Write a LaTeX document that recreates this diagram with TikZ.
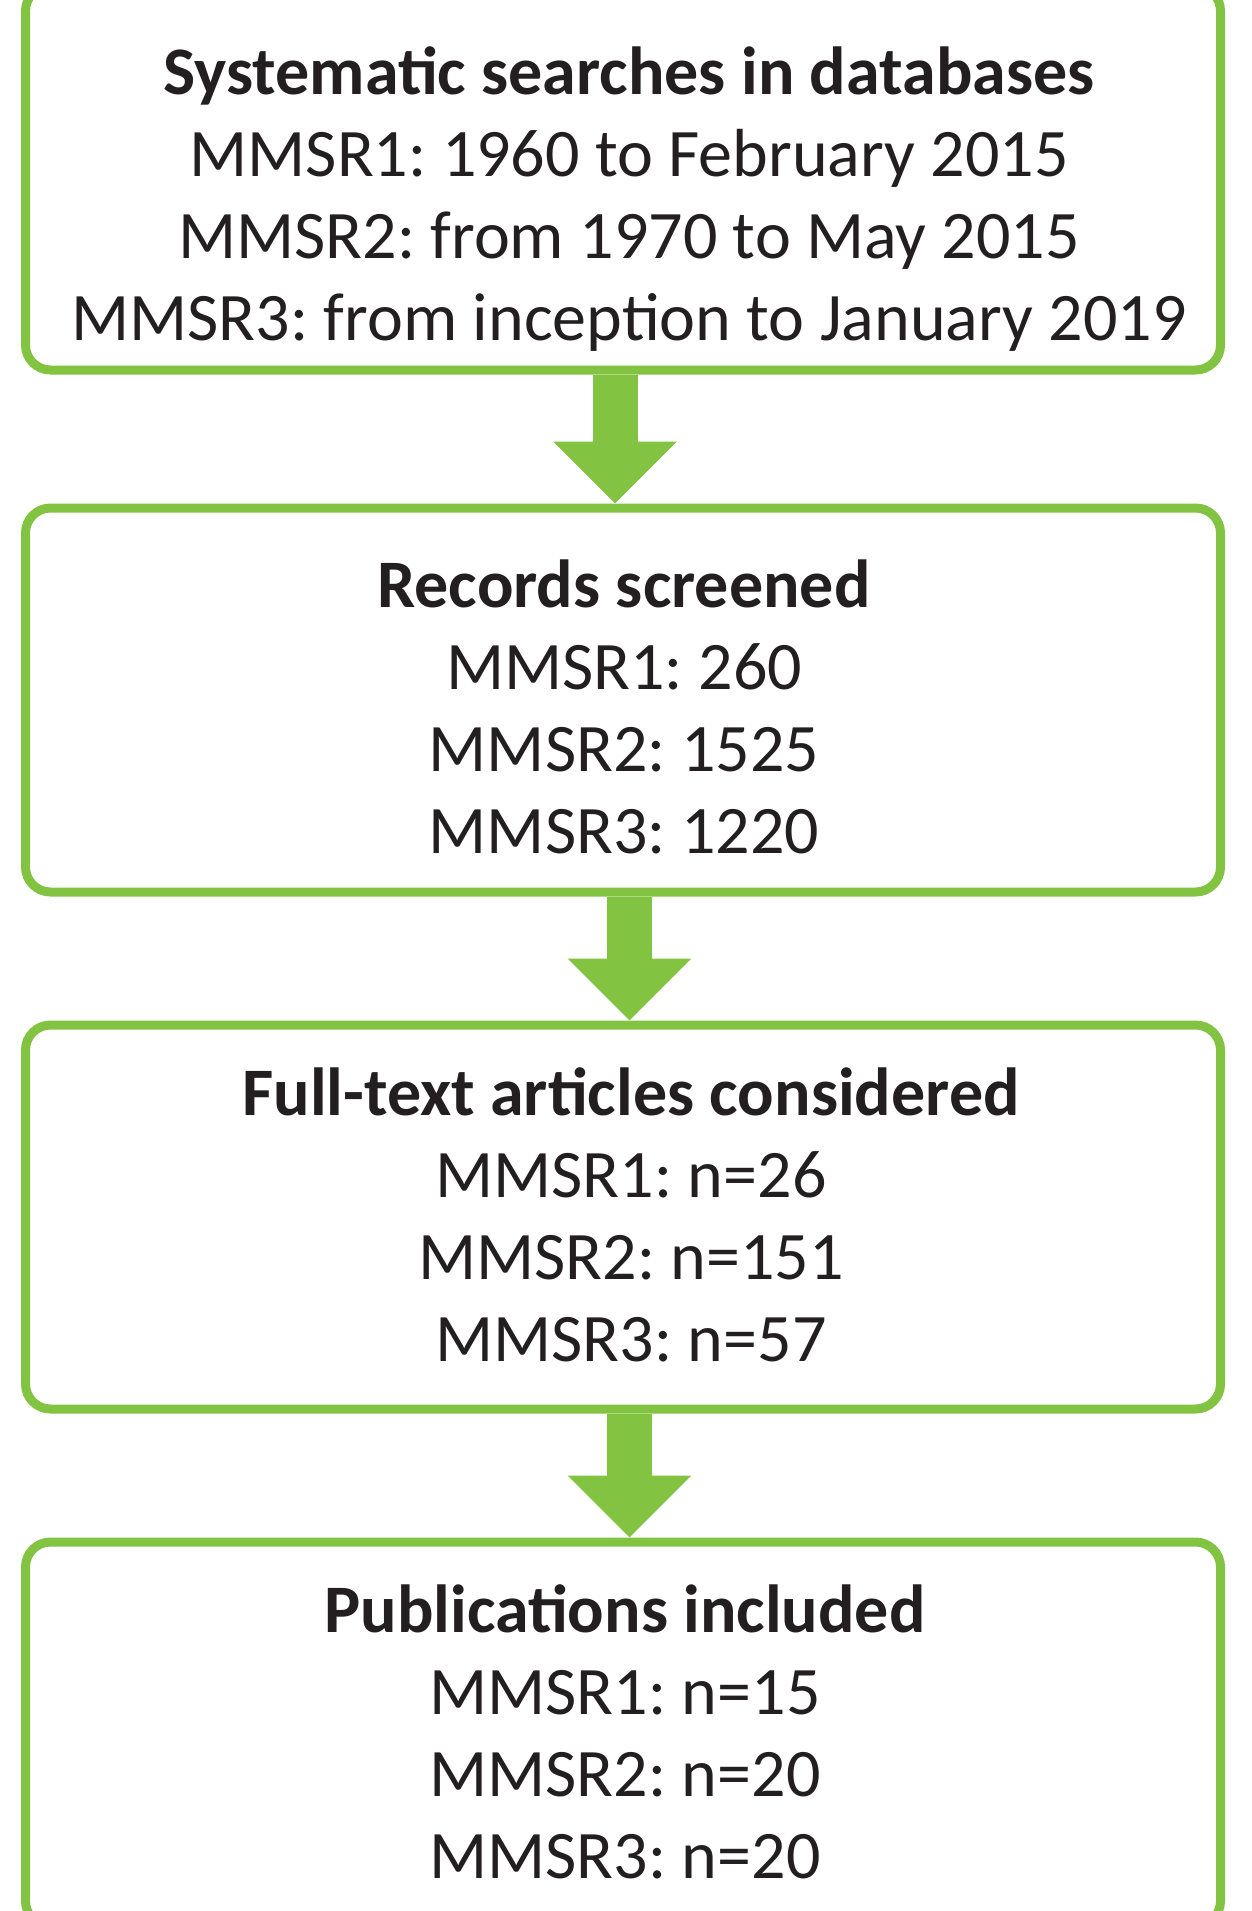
\documentclass[tikz,border=0pt]{standalone}
\usepackage{fontspec}
\setmainfont{Carlito}
\usetikzlibrary{arrows.meta,calc}
\definecolor{boxgreen}{RGB}{130,195,65}
\definecolor{txtgray}{RGB}{35,31,32}
\frenchspacing

\begin{document}
\begin{tikzpicture}[x=0.5pt, y=-0.5pt,
    stepbox/.style={draw=boxgreen, line width=4.5pt, rounded corners=12.5pt,
        minimum width=597.5pt, minimum height=192pt, inner sep=0pt},
    steptext/.style={anchor=base, align=center, text=txtgray,
        font=\fontsize{34}{41}\selectfont},
    fatarrow/.style={draw=boxgreen, line width=22.5pt,
        -{Triangle[length=31pt, width=60pt]}}]
    \useasboundingbox (0,0) rectangle (1252,1911);

    % Draw the boxes
    \node[stepbox] (search) at (623,178) {};
    \node[stepbox] (screen) at (623,700) {};
    \node[stepbox] (fulltext) at (623,1217) {};
    \node[stepbox] (included) at (623,1734) {};

    % Draw the texts
    \node[steptext] (searchtxt) at (629,340) {\textbf{Systematic searches in databases}\\
        MMSR1: 1960 to February 2015\\ MMSR2: from 1970 to May 2015\\
        MMSR3: from inception to January 2019};
    \node[steptext] (screentxt) at (624,853) {\textbf{Records screened}\\
        MMSR1: 260\\ MMSR2: 1525\\ MMSR3: 1220};
    \node[steptext] (fulltexttxt) at (631,1361) {\textbf{Full-text articles considered}\\
        MMSR1: n=26\\ MMSR2: n=151\\ MMSR3: n=57};
    \node[steptext] (includedtxt) at (625,1878) {\textbf{Publications included}\\
        MMSR1: n=15\\ MMSR2: n=20\\ MMSR3: n=20};

    % Draw the arrows
    \draw[fatarrow] ($(search.south)+(-8,0)$) -- ($(screen.north)+(-8,0)$);
    \draw[fatarrow] ($(screen.south)+(6.5,0)$) -- ($(fulltext.north)+(6.5,0)$);
    \draw[fatarrow] ($(fulltext.south)+(6.5,0)$) -- ($(included.north)+(6.5,0)$);
\end{tikzpicture}
\end{document}
